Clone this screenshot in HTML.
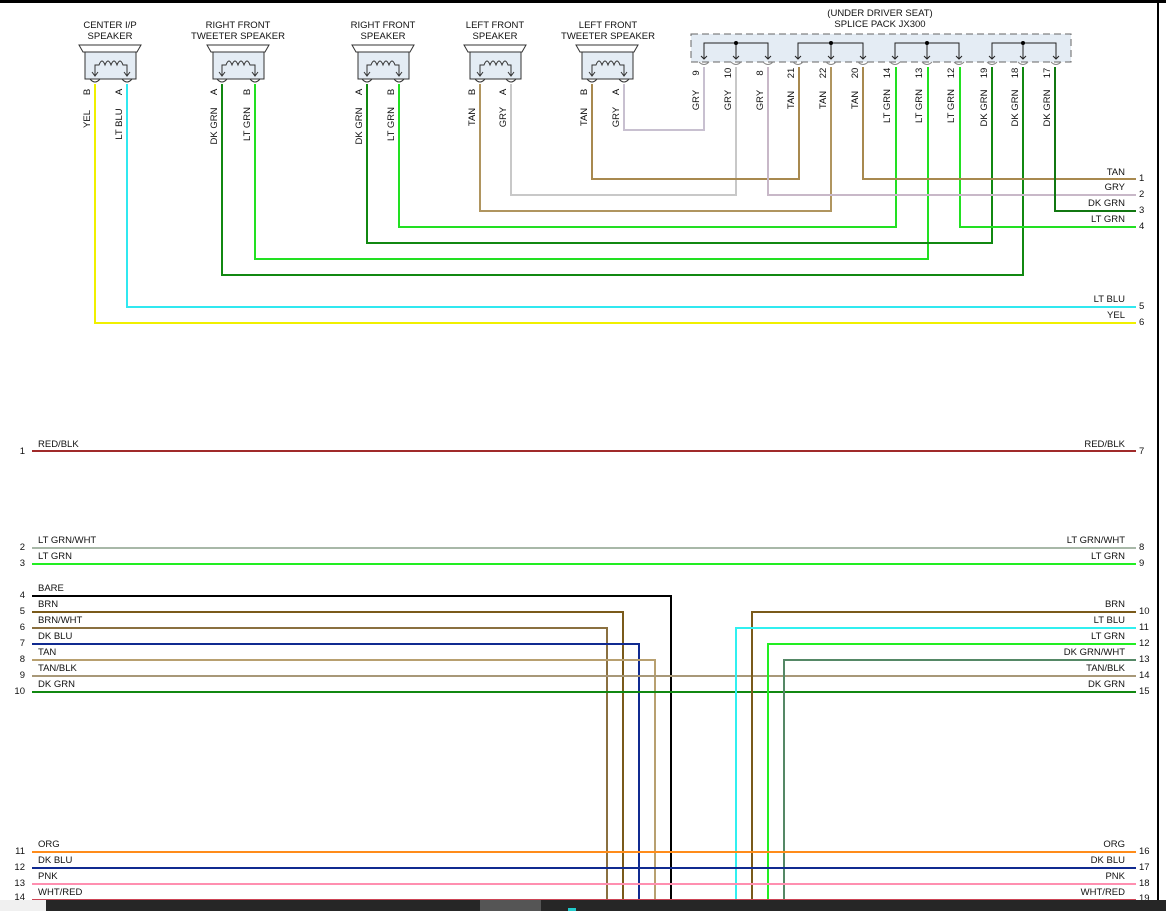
<!DOCTYPE html>
<html><head><meta charset="utf-8"><style>
html,body{margin:0;padding:0;background:#fff;width:1166px;height:911px;overflow:hidden}
svg{display:block;font-family:"Liberation Sans",Arial,sans-serif;font-size:10px}
text{fill:#111}
</style></head><body>
<svg width="1166" height="911" viewBox="0 0 1166 911" xmlns="http://www.w3.org/2000/svg">
<rect x="0" y="0" width="1166" height="3" fill="#000"/>
<rect x="1157" y="0" width="2" height="911" fill="#000"/>

<!-- Speakers -->
<g fill="#e4ecf4" stroke="#333" stroke-width="1">
<path d="M79,45 L141,45 L137,52 L83,52 Z" fill="#fff"/><rect x="85" y="52" width="51" height="27"/>
<path d="M207,45 L269,45 L265,52 L211,52 Z" fill="#fff"/><rect x="213" y="52" width="51" height="27"/>
<path d="M352,45 L414,45 L410,52 L356,52 Z" fill="#fff"/><rect x="358" y="52" width="51" height="27"/>
<path d="M464,45 L526,45 L522,52 L468,52 Z" fill="#fff"/><rect x="470" y="52" width="51" height="27"/>
<path d="M576,45 L638,45 L634,52 L580,52 Z" fill="#fff"/><rect x="582" y="52" width="51" height="27"/>
</g>
<g fill="none" stroke="#333" stroke-width="1">
<path d="M95,75 V65 H99 q3,-8 6,0 q3,-8 6,0 q3,-8 6,0 q3,-8 6,0 H127 V75 M92,72 L95,76 L98,72 M124,72 L127,76 L130,72 M90,79 q5,6 10,0 M122,79 q5,6 10,0"/>
<path d="M222,75 V65 H226 q3,-8 6,0 q3,-8 6,0 q3,-8 6,0 q3,-8 6,0 H255 V75 M219,72 L222,76 L225,72 M252,72 L255,76 L258,72 M217,79 q5,6 10,0 M250,79 q5,6 10,0"/>
<path d="M367,75 V65 H371 q3,-8 6,0 q3,-8 6,0 q3,-8 6,0 q3,-8 6,0 H399 V75 M364,72 L367,76 L370,72 M396,72 L399,76 L402,72 M362,79 q5,6 10,0 M394,79 q5,6 10,0"/>
<path d="M480,75 V65 H484 q3,-8 6,0 q3,-8 6,0 q3,-8 6,0 q3,-8 6,0 H511 V75 M477,72 L480,76 L483,72 M508,72 L511,76 L514,72 M475,79 q5,6 10,0 M506,79 q5,6 10,0"/>
<path d="M592,75 V65 H596 q3,-8 6,0 q3,-8 6,0 q3,-8 6,0 q3,-8 6,0 H624 V75 M589,72 L592,76 L595,72 M621,72 L624,76 L627,72 M587,79 q5,6 10,0 M619,79 q5,6 10,0"/>
</g>
<g text-anchor="middle" font-size="9.5">
<text x="110" y="28">CENTER I/P</text><text x="110" y="39">SPEAKER</text>
<text x="238" y="28">RIGHT FRONT</text><text x="238" y="39">TWEETER SPEAKER</text>
<text x="383" y="28">RIGHT FRONT</text><text x="383" y="39">SPEAKER</text>
<text x="495" y="28">LEFT FRONT</text><text x="495" y="39">SPEAKER</text>
<text x="608" y="28">LEFT FRONT</text><text x="608" y="39">TWEETER SPEAKER</text>
<text x="880" y="16">(UNDER DRIVER SEAT)</text><text x="880" y="27">SPLICE PACK JX300</text>
</g>

<!-- Splice pack -->
<rect x="691" y="34" width="380" height="28" fill="#e4ecf4" stroke="#666" stroke-dasharray="7,4"/>
<g fill="none" stroke="#222">
<path d="M704,59 V43 H768 V59 M736,43 V59 M798,59 V43 H863 V59 M831,43 V59 M895,59 V43 H959 V59 M927,43 V59 M992,59 V43 H1056 V59 M1023,43 V59"/>
<path d="M701,56 l3,3 l3,-3 M733,56 l3,3 l3,-3 M765,56 l3,3 l3,-3 M795,56 l3,3 l3,-3 M828,56 l3,3 l3,-3 M860,56 l3,3 l3,-3 M892,56 l3,3 l3,-3 M924,56 l3,3 l3,-3 M956,56 l3,3 l3,-3 M989,56 l3,3 l3,-3 M1020,56 l3,3 l3,-3 M1053,56 l3,3 l3,-3" />
</g>
<g fill="#000"><circle cx="736" cy="43" r="2"/><circle cx="831" cy="43" r="2"/><circle cx="927" cy="43" r="2"/><circle cx="1023" cy="43" r="2"/></g>
<g fill="none" stroke="#888"><path d="M699,62 q5,5 10,0 M731,62 q5,5 10,0 M763,62 q5,5 10,0 M793,62 q5,5 10,0 M826,62 q5,5 10,0 M858,62 q5,5 10,0 M890,62 q5,5 10,0 M922,62 q5,5 10,0 M954,62 q5,5 10,0 M987,62 q5,5 10,0 M1018,62 q5,5 10,0 M1051,62 q5,5 10,0"/></g>

<!-- Top wires -->
<g fill="none" stroke-width="2">
<path d="M95,84 V323 H1136" stroke="#f0f000"/>
<path d="M127,84 V307 H1136" stroke="#30e8f0"/>
<path d="M222,84 V275 H1023 V67" stroke="#118811"/>
<path d="M255,84 V259 H928 V67" stroke="#22e022"/>
<path d="M367,84 V243 H992 V67" stroke="#118811"/>
<path d="M399,84 V227 H896 V67" stroke="#22e022"/>
<path d="M960,67 V227 H1136" stroke="#22e022"/>
<path d="M480,84 V211 H831 V67" stroke="#b0955f"/>
<path d="M511,84 V195 H736 V67" stroke="#c8c8c8"/>
<path d="M592,84 V179 H799 V67" stroke="#a8894f"/>
<path d="M624,84 V130 H704 V67" stroke="#c8c0d0"/>
<path d="M768,67 V195 H1136" stroke="#c8b8c8"/>
<path d="M863,67 V179 H1136" stroke="#a8894f"/>
<path d="M1055,67 V211 H1136" stroke="#117711"/>
</g>

<!-- top wire labels (rotated) -->
<g font-size="9.5" text-anchor="middle">
<text transform="translate(90,92) rotate(-90)">B</text><text transform="translate(122,92) rotate(-90)">A</text>
<text transform="translate(217,92) rotate(-90)">A</text><text transform="translate(250,92) rotate(-90)">B</text>
<text transform="translate(362,92) rotate(-90)">A</text><text transform="translate(394,92) rotate(-90)">B</text>
<text transform="translate(475,92) rotate(-90)">B</text><text transform="translate(506,92) rotate(-90)">A</text>
<text transform="translate(587,92) rotate(-90)">B</text><text transform="translate(619,92) rotate(-90)">A</text>
<text transform="translate(90,119) rotate(-90)">YEL</text>
<text transform="translate(122,124) rotate(-90)">LT BLU</text>
<text transform="translate(217,126) rotate(-90)">DK GRN</text>
<text transform="translate(250,124) rotate(-90)">LT GRN</text>
<text transform="translate(362,126) rotate(-90)">DK GRN</text>
<text transform="translate(394,124) rotate(-90)">LT GRN</text>
<text transform="translate(475,117) rotate(-90)">TAN</text>
<text transform="translate(506,117) rotate(-90)">GRY</text>
<text transform="translate(587,117) rotate(-90)">TAN</text>
<text transform="translate(619,117) rotate(-90)">GRY</text>
<text transform="translate(699,73) rotate(-90)">9</text>
<text transform="translate(731,73) rotate(-90)">10</text>
<text transform="translate(763,73) rotate(-90)">8</text>
<text transform="translate(794,73) rotate(-90)">21</text>
<text transform="translate(826,73) rotate(-90)">22</text>
<text transform="translate(858,73) rotate(-90)">20</text>
<text transform="translate(890,73) rotate(-90)">14</text>
<text transform="translate(922,73) rotate(-90)">13</text>
<text transform="translate(954,73) rotate(-90)">12</text>
<text transform="translate(987,73) rotate(-90)">19</text>
<text transform="translate(1018,73) rotate(-90)">18</text>
<text transform="translate(1050,73) rotate(-90)">17</text>
<text transform="translate(699,100) rotate(-90)">GRY</text>
<text transform="translate(731,100) rotate(-90)">GRY</text>
<text transform="translate(763,100) rotate(-90)">GRY</text>
<text transform="translate(794,100) rotate(-90)">TAN</text>
<text transform="translate(826,100) rotate(-90)">TAN</text>
<text transform="translate(858,100) rotate(-90)">TAN</text>
<text transform="translate(890,106) rotate(-90)">LT GRN</text>
<text transform="translate(922,106) rotate(-90)">LT GRN</text>
<text transform="translate(954,106) rotate(-90)">LT GRN</text>
<text transform="translate(987,108) rotate(-90)">DK GRN</text>
<text transform="translate(1018,108) rotate(-90)">DK GRN</text>
<text transform="translate(1050,108) rotate(-90)">DK GRN</text>
</g>

<!-- Lower wires -->
<g fill="none" stroke-width="2">
<path d="M32,451 H1136" stroke="#a02a2a"/>
<path d="M32,548 H1136" stroke="#a8b8a8"/>
<path d="M32,564 H1136" stroke="#22ee22"/>
<path d="M32,596 H671 V900" stroke="#000"/>
<path d="M32,612 H623 V900" stroke="#7a5a1a"/>
<path d="M32,628 H607 V900" stroke="#8a7040"/>
<path d="M32,644 H639 V900" stroke="#102a90"/>
<path d="M32,660 H655 V900" stroke="#b8a070"/>
<path d="M32,676 H1136" stroke="#a89878"/>
<path d="M32,692 H1136" stroke="#118811"/>
<path d="M1136,612 H752 V900" stroke="#7a5a1a"/>
<path d="M1136,628 H736 V900" stroke="#30f0f0"/>
<path d="M1136,644 H768 V900" stroke="#22ee22"/>
<path d="M1136,660 H784 V900" stroke="#558866"/>
<path d="M32,852 H1136" stroke="#ff8c1a"/>
<path d="M32,868 H1136" stroke="#102a90"/>
<path d="M32,884 H1136" stroke="#ff8fb0"/>
<path d="M32,900 H1136" stroke="#cc4455"/>
</g>
<g font-size="9.5">
<text x="38" y="447">RED/BLK</text>
<text x="38" y="543">LT GRN/WHT</text><text x="38" y="559">LT GRN</text>
<text x="38" y="591">BARE</text><text x="38" y="607">BRN</text><text x="38" y="623">BRN/WHT</text>
<text x="38" y="639">DK BLU</text><text x="38" y="655">TAN</text><text x="38" y="671">TAN/BLK</text><text x="38" y="687">DK GRN</text>
<text x="38" y="847">ORG</text><text x="38" y="863">DK BLU</text><text x="38" y="879">PNK</text><text x="38" y="895">WHT/RED</text>
</g>
<g font-size="9.5" text-anchor="end">
<text x="25" y="454">1</text><text x="25" y="550">2</text><text x="25" y="566">3</text>
<text x="25" y="598">4</text><text x="25" y="614">5</text><text x="25" y="630">6</text><text x="25" y="646">7</text>
<text x="25" y="662">8</text><text x="25" y="678">9</text><text x="25" y="694">10</text>
<text x="25" y="854">11</text><text x="25" y="870">12</text><text x="25" y="886">13</text><text x="25" y="900">14</text>
<text x="1125" y="175">TAN</text><text x="1125" y="190">GRY</text><text x="1125" y="206">DK GRN</text><text x="1125" y="222">LT GRN</text>
<text x="1125" y="302">LT BLU</text><text x="1125" y="318">YEL</text>
<text x="1125" y="447">RED/BLK</text>
<text x="1125" y="543">LT GRN/WHT</text><text x="1125" y="559">LT GRN</text>
<text x="1125" y="607">BRN</text><text x="1125" y="623">LT BLU</text><text x="1125" y="639">LT GRN</text>
<text x="1125" y="655">DK GRN/WHT</text><text x="1125" y="671">TAN/BLK</text><text x="1125" y="687">DK GRN</text>
<text x="1125" y="847">ORG</text><text x="1125" y="863">DK BLU</text><text x="1125" y="879">PNK</text><text x="1125" y="895">WHT/RED</text>
</g>
<g font-size="9.5">
<text x="1139" y="181">1</text><text x="1139" y="197">2</text><text x="1139" y="213">3</text><text x="1139" y="229">4</text>
<text x="1139" y="309">5</text><text x="1139" y="325">6</text><text x="1139" y="454">7</text>
<text x="1139" y="550">8</text><text x="1139" y="566">9</text>
<text x="1139" y="614">10</text><text x="1139" y="630">11</text><text x="1139" y="646">12</text><text x="1139" y="662">13</text>
<text x="1139" y="678">14</text><text x="1139" y="694">15</text>
<text x="1139" y="854">16</text><text x="1139" y="870">17</text><text x="1139" y="886">18</text><text x="1139" y="901">19</text>
</g>

<!-- bottom bar -->
<rect x="0" y="900" width="46" height="11" fill="#f0f0f0"/>
<rect x="46" y="900" width="1120" height="11" fill="#262626"/>
<rect x="480" y="900" width="61" height="11" fill="#555"/>
<rect x="568" y="908" width="8" height="3" fill="#2cc"/>
</svg>
</body></html>
